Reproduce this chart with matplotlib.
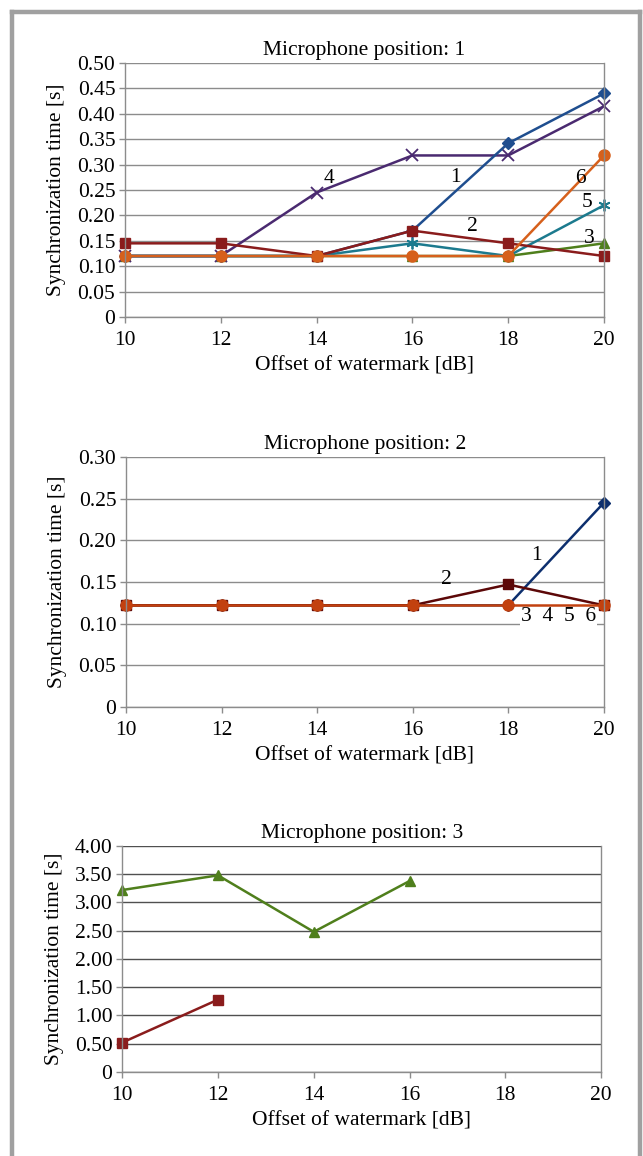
import numpy as np
import matplotlib.pyplot as plt
from matplotlib.lines import Line2D

plt.rcParams['font.family'] = ['Liberation Serif', 'DejaVu Serif']

offset_db = [10, 12, 14, 16, 18, 20]
nan = np.nan

# microphone position 1
p1_s1 = [0.12, 0.12, 0.12, 0.17, 0.342, 0.44]
p1_s2 = [0.145, 0.145, 0.12, 0.17, 0.145, 0.12]
p1_s3 = [0.12, 0.12, 0.12, 0.12, 0.12, 0.145]
p1_s4 = [0.12, 0.12, 0.245, 0.318, 0.318, 0.415]
p1_s5 = [0.12, 0.12, 0.12, 0.145, 0.12, 0.22]
p1_s6 = [0.12, 0.12, 0.12, 0.12, 0.12, 0.318]

# microphone position 2
p2_s1 = [0.122, 0.122, 0.122, 0.122, 0.122, 0.245]
p2_s2 = [0.122, 0.122, 0.122, 0.122, 0.147, 0.122]
p2_rest = [0.122, 0.122, 0.122, 0.122, 0.122, 0.122]

# microphone position 3
p3_s2 = [0.52, 1.28, nan, nan, nan, nan]
p3_s3 = [3.22, 3.48, 2.48, 3.38, nan, nan]

fig = plt.figure(figsize=(6.43, 11.56), dpi=100)

# gray frame
for xs, ys in [([12/643, 12/643], [0, 1 - 12/1156]),
               ([12/643, 640/643], [1 - 12/1156, 1 - 12/1156]),
               ([640/643, 640/643], [1 - 12/1156, 0])]:
    fig.add_artist(Line2D(xs, ys, transform=fig.transFigure, color='#a0a0a0', lw=3.2))

FS = 15.5
grid_c = '#8c8c8c'


def setup(ax, ymax, ystep, fmt, title, grid_color=grid_c):
    ax.set_xlim(10, 20)
    ax.set_ylim(0, ymax)
    ax.set_xticks(offset_db)
    yt = np.arange(0, ymax + ystep / 2, ystep)
    ax.set_yticks(yt)
    ax.set_yticklabels(['0'] + [fmt % v for v in yt[1:]])
    ax.grid(axis='y', color=grid_color, lw=1.0)
    ax.set_axisbelow(True)
    for s in ['left', 'bottom', 'right']:
        ax.spines[s].set_color(grid_c)
        ax.spines[s].set_linewidth(1.0)
    ax.spines['top'].set_visible(False)
    ax.tick_params(axis='both', labelsize=FS, color=grid_c, length=4, width=1)
    ax.tick_params(axis='x', pad=6)
    ax.tick_params(axis='y', pad=3)
    ax.set_title(title, fontsize=FS, pad=6)
    ax.set_xlabel('Offset of watermark [dB]', fontsize=FS, labelpad=5)
    ax.set_ylabel('Synchronization time [s]', fontsize=FS, labelpad=8)


ax1 = fig.add_axes([0.1944, 0.7258, 0.745, 0.2197])
setup(ax1, 0.5, 0.05, '%.2f', 'Microphone position: 1')
kw = dict(lw=1.8, clip_on=False)
ax1.plot(offset_db, p1_s3, color='#4f7f1c', marker='^', ms=7.5, **kw)
ax1.plot(offset_db, p1_s5, color='#1c7a8e', marker=(6, 2, 0), ms=8.5, mew=1.3, **kw)
ax1.plot(offset_db, p1_s4, color='#4a2a70', marker='x', ms=8, mew=1.3, **kw)
ax1.plot(offset_db, p1_s1, color='#1f4e8f', marker='D', ms=6, **kw)
ax1.plot(offset_db, p1_s2, color='#8a1c1c', marker='s', ms=7.5, **kw)
ax1.plot(offset_db, p1_s6, color='#d6601c', marker='o', ms=8, **kw)
for x, y, t in [(14.25, 0.272, '4'), (16.9, 0.275, '1'), (17.25, 0.178, '2'),
                (19.5, 0.272, '6'), (19.65, 0.225, '5'), (19.7, 0.155, '3')]:
    ax1.text(x, y, t, fontsize=FS, ha='center', va='center')

ax2 = fig.add_axes([0.196, 0.3884, 0.743, 0.2163])
setup(ax2, 0.3, 0.05, '%.2f', 'Microphone position: 2')
ax2.plot(offset_db, p2_s1, color='#0d2f6e', marker='D', ms=6, **kw)
ax2.plot(offset_db, p2_s2, color='#5c0808', marker='s', ms=7.5, **kw)
ax2.plot(offset_db, p2_rest, color='#c2410f', marker='o', ms=8, **kw)
ax2.text(18.6, 0.182, '1', fontsize=FS, ha='center', va='center')
ax2.text(16.7, 0.153, '2', fontsize=FS, ha='center', va='center')
ax2.text(19.05, 0.1085, '3  4  5  6', fontsize=FS, ha='center', va='center', zorder=1.5,
         bbox=dict(facecolor='white', edgecolor='none', pad=1.0))

ax3 = fig.add_axes([0.19, 0.0727, 0.745, 0.1955])
setup(ax3, 4.0, 0.5, '%.2f', 'Microphone position: 3', grid_color='#505050')
ax3.plot(offset_db, p3_s3, color='#4f7f1c', marker='^', ms=7.5, **kw)
ax3.plot(offset_db, p3_s2, color='#8a1c1c', marker='s', ms=7.5, **kw)

fig.savefig('out.png', dpi=100)
